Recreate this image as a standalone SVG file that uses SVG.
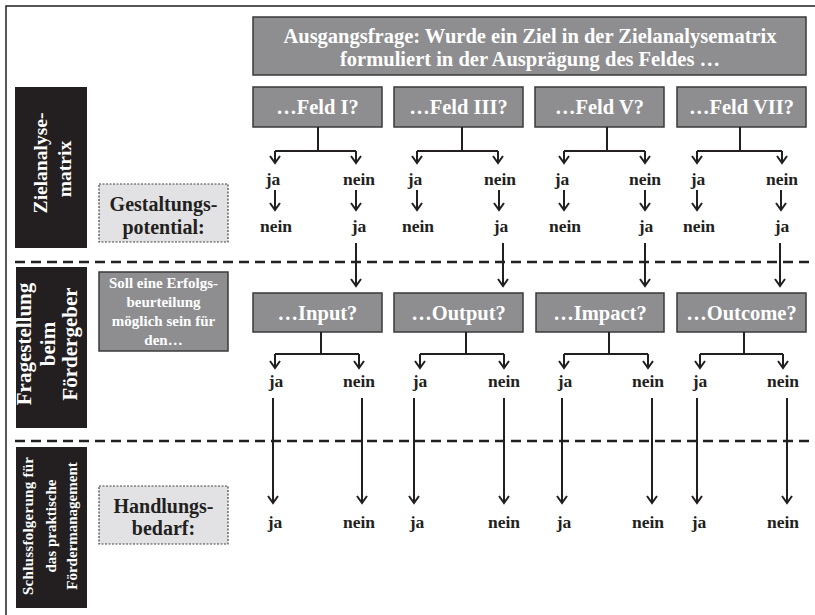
<svg xmlns="http://www.w3.org/2000/svg" width="815" height="615" viewBox="0 0 815 615">
<defs>
<marker id="ah" markerUnits="userSpaceOnUse" markerWidth="12" markerHeight="12" viewBox="0 0 12 12" refX="10" refY="6" orient="auto">
<path d="M3,1 L10,6 L3,11" fill="none" stroke="#231f20" stroke-width="2"/>
</marker>
</defs>
<style>
.gbox{fill:#8e8e90;stroke:#3a3a3a;stroke-width:1.5}
.bbox{fill:#231f20}
.lbox{fill:#e2e2e4;stroke:#444;stroke-width:1.2;stroke-dasharray:2 1.5}
.wt{font-family:"Liberation Serif","Times New Roman",serif;font-weight:bold;fill:#ffffff;text-anchor:middle}
.dt{font-family:"Liberation Serif","Times New Roman",serif;font-weight:bold;fill:#231f20;text-anchor:middle}
.yn{font-family:"Liberation Serif","Times New Roman",serif;font-weight:bold;fill:#231f20;text-anchor:middle;font-size:17.5px}
.ln{fill:none;stroke:#231f20;stroke-width:2}
.ar{fill:none;stroke:#231f20;stroke-width:2;marker-end:url(#ah)}
.dash{fill:none;stroke:#231f20;stroke-width:2.5;stroke-dasharray:10 6}
.frame{fill:none;stroke:#231f20;stroke-width:1.5}
</style>
<rect width="815" height="615" fill="#ffffff"/>
<path class="frame" d="M6,615 L6,6 L815,6"/>

<g id="start">
<rect class="gbox" x="253" y="17" width="553" height="58"/>
<text class="wt" x="530" y="43" font-size="20.5">Ausgangsfrage: Wurde ein Ziel in der Zielanalysematrix</text>
<text class="wt" x="530" y="66" font-size="20.5">formuliert in der Ausprägung des Feldes …</text>
</g>

<g id="side1">
<rect class="bbox" x="15" y="87" width="72" height="161"/>
<text class="wt" font-size="19.5" transform="translate(47,163) rotate(-90)">Zielanalyse-</text>
<text class="wt" font-size="19.5" transform="translate(71,169) rotate(-90)">matrix</text>
</g>
<g id="side2">
<rect class="bbox" x="16" y="267" width="71" height="161"/>
<text class="wt" font-size="21" transform="translate(31,344) rotate(-90)">Fragestellung</text>
<text class="wt" font-size="21" transform="translate(55,344) rotate(-90)">beim</text>
<text class="wt" font-size="21" transform="translate(77,344) rotate(-90)">Fördergeber</text>
</g>
<g id="side3">
<rect class="bbox" x="16" y="447" width="71" height="161"/>
<text class="wt" font-size="15" transform="translate(33,526) rotate(-90)" textLength="138" lengthAdjust="spacing">Schlussfolgerung für</text>
<text class="wt" font-size="15" transform="translate(56,526) rotate(-90)">das praktische</text>
<text class="wt" font-size="15" transform="translate(77,526) rotate(-90)">Fördermanagement</text>
</g>

<g id="gestaltung">
<rect class="lbox" x="99" y="184" width="129" height="58"/>
<text class="dt" x="163.5" y="211" font-size="20">Gestaltungs-</text>
<text class="dt" x="163.5" y="234" font-size="20">potential:</text>
</g>
<g id="soll">
<rect class="gbox" x="99" y="272" width="129" height="79"/>
<text class="wt" x="163.5" y="288" font-size="15">Soll eine Erfolgs-</text>
<text class="wt" x="163.5" y="307" font-size="15">beurteilung</text>
<text class="wt" x="163.5" y="326" font-size="15">möglich sein für</text>
<text class="wt" x="163.5" y="345" font-size="15">den…</text>
</g>
<g id="handlung">
<rect class="lbox" x="99" y="486" width="129" height="58"/>
<text class="dt" x="163.5" y="513" font-size="20">Handlungs-</text>
<text class="dt" x="163.5" y="535" font-size="20">bedarf:</text>
</g>

<g id="feld1"><rect class="gbox" x="253" y="87" width="129" height="40"/><text class="wt" x="317.5" y="114" font-size="20.5">…Feld I?</text></g>
<g id="feld3"><rect class="gbox" x="394" y="87" width="129" height="40"/><text class="wt" x="458.5" y="114" font-size="20.5">…Feld III?</text></g>
<g id="feld5"><rect class="gbox" x="535" y="87" width="129" height="40"/><text class="wt" x="599.5" y="114" font-size="20.5">…Feld V?</text></g>
<g id="feld7"><rect class="gbox" x="677" y="87" width="129" height="40"/><text class="wt" x="741.5" y="114" font-size="20.5">…Feld VII?</text></g>

<g id="input"><rect class="gbox" x="253" y="293" width="129" height="39"/><text class="wt" x="317.5" y="320" font-size="20.5">…Input?</text></g>
<g id="output"><rect class="gbox" x="394" y="293" width="129" height="39"/><text class="wt" x="458.5" y="320" font-size="20.5">…Output?</text></g>
<g id="impact"><rect class="gbox" x="536" y="293" width="128" height="39"/><text class="wt" x="600" y="320" font-size="20.5">…Impact?</text></g>
<g id="outcome"><rect class="gbox" x="677" y="293" width="129" height="39"/><text class="wt" x="741.5" y="320" font-size="20.5">…Outcome?</text></g>

<g id="dividers">
<line class="dash" x1="15" y1="262" x2="815" y2="262"/>
<line class="dash" x1="15" y1="441" x2="815" y2="441"/>
</g>

<g id="connectors">
<path class="ln" d="M318,127 V151 M275,151 H356"/>
<path class="ar" d="M275,151 V163"/><path class="ar" d="M356,151 V163"/>
<path class="ln" d="M462,127 V151 M417,151 H498"/>
<path class="ar" d="M417,151 V163"/><path class="ar" d="M498,151 V163"/>
<path class="ln" d="M607,127 V151 M564,151 H645"/>
<path class="ar" d="M564,151 V163"/><path class="ar" d="M645,151 V163"/>
<path class="ln" d="M740,127 V151 M697,151 H782"/>
<path class="ar" d="M697,151 V163"/><path class="ar" d="M782,151 V163"/>
<path class="ar" d="M275,190 V210"/><path class="ar" d="M356,190 V210"/>
<path class="ar" d="M417,190 V210"/><path class="ar" d="M499,190 V210"/>
<path class="ar" d="M564,190 V210"/><path class="ar" d="M645,190 V210"/>
<path class="ar" d="M697,190 V210"/><path class="ar" d="M781,190 V210"/>
<path class="ar" d="M356,243 V286"/>
<path class="ar" d="M503,243 V286"/>
<path class="ar" d="M645,243 V286"/>
<path class="ar" d="M780,243 V286"/>
<path class="ln" d="M321,332 V354 M275,354 H359"/>
<path class="ar" d="M275,354 V368"/><path class="ar" d="M359,354 V368"/>
<path class="ln" d="M466,332 V354 M420,354 H504"/>
<path class="ar" d="M420,354 V368"/><path class="ar" d="M504,354 V368"/>
<path class="ln" d="M609,332 V354 M564,354 H648"/>
<path class="ar" d="M564,354 V368"/><path class="ar" d="M648,354 V368"/>
<path class="ln" d="M744,332 V354 M700,354 H783"/>
<path class="ar" d="M700,354 V368"/><path class="ar" d="M783,354 V368"/>
<path class="ar" d="M273,398 V503"/><path class="ar" d="M362,398 V503"/>
<path class="ar" d="M414,398 V503"/><path class="ar" d="M504,398 V503"/>
<path class="ar" d="M562,398 V503"/><path class="ar" d="M652,398 V503"/>
<path class="ar" d="M697,398 V503"/><path class="ar" d="M787,398 V503"/>
</g>

<g id="labels">
<text class="yn" x="273" y="185">ja</text><text class="yn" x="359" y="185">nein</text>
<text class="yn" x="415" y="185">ja</text><text class="yn" x="500" y="185">nein</text>
<text class="yn" x="562" y="185">ja</text><text class="yn" x="645" y="185">nein</text>
<text class="yn" x="698" y="185">ja</text><text class="yn" x="782" y="185">nein</text>

<text class="yn" x="276" y="232">nein</text><text class="yn" x="359" y="232">ja</text>
<text class="yn" x="418" y="232">nein</text><text class="yn" x="501" y="232">ja</text>
<text class="yn" x="565" y="232">nein</text><text class="yn" x="646" y="232">ja</text>
<text class="yn" x="699" y="232">nein</text><text class="yn" x="782" y="232">ja</text>

<text class="yn" x="276" y="387">ja</text><text class="yn" x="359" y="387">nein</text>
<text class="yn" x="420" y="387">ja</text><text class="yn" x="504" y="387">nein</text>
<text class="yn" x="565" y="387">ja</text><text class="yn" x="648" y="387">nein</text>
<text class="yn" x="700" y="387">ja</text><text class="yn" x="783" y="387">nein</text>

<text class="yn" x="275" y="528">ja</text><text class="yn" x="359" y="528">nein</text>
<text class="yn" x="417" y="528">ja</text><text class="yn" x="504" y="528">nein</text>
<text class="yn" x="564" y="528">ja</text><text class="yn" x="648" y="528">nein</text>
<text class="yn" x="699" y="528">ja</text><text class="yn" x="783" y="528">nein</text>
</g>
</svg>
